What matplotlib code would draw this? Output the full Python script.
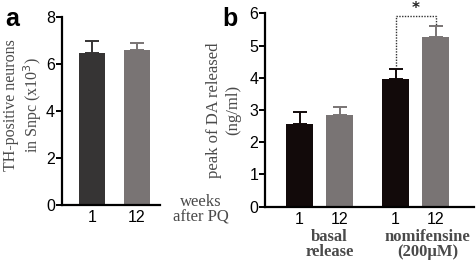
import matplotlib
matplotlib.use("Agg")
import matplotlib.pyplot as plt

# === Data ===
weeks = ["1", "12"]

# panel a: TH-positive neurons (x10^3)
th_means = [6.47, 6.58]
th_errs = [0.50, 0.33]

# panel b: peak of DA released (ng/ml)
da_ticks = ["1", "12", "1", "12"]
da_means = [2.57, 2.85, 3.96, 5.27]
da_errs = [0.36, 0.24, 0.31, 0.33]
da_groups = ["basal\nrelease", "nomifensine\n(200\u00b5M)"]

dark_a = "#363434"
dark_b = "#120a0a"
grey = "#797474"
text_grey = "#4a4a4a"

fig = plt.figure(figsize=(4.76, 2.6), dpi=100)


def style_axes(ax):
    for s in ["top", "right"]:
        ax.spines[s].set_visible(False)
    for s in ["left", "bottom"]:
        ax.spines[s].set_linewidth(1.6)
    ax.tick_params(axis="y", direction="out", length=4, width=1.4,
                   labelsize=11.5, pad=1)
    ax.tick_params(axis="x", length=0, labelsize=11.5, pad=4)
    for lbl in ax.get_xticklabels() + ax.get_yticklabels():
        lbl.set_family("Liberation Sans")


# === Panel a ===
ax1 = fig.add_axes([0.130, 0.212, 0.206, 0.723])
xa = [1, 2]
ax1.bar(xa, th_means, width=0.58, color=[dark_a, grey])
for x, m, e, c in zip(xa, th_means, th_errs, [dark_a, grey]):
    ax1.errorbar(x, m, yerr=[[0], [e]], color=c, capsize=5, elinewidth=1.4,
                 capthick=1.4)
ax1.set_xlim(0.33, 2.51)
ax1.set_ylim(0, 8)
ax1.set_yticks([0, 2, 4, 6, 8])
ax1.set_xticks(xa)
ax1.set_xticklabels(weeks)
style_axes(ax1)
ax1.set_ylabel("TH-positive neurons\nin Snpc (x10$^3$)", family="Liberation Serif",
               fontsize=11.5, color=text_grey, linespacing=1.15)
ax1.yaxis.set_label_coords(-0.18, 0.53)
fig.text(0.421, 0.195, "weeks\nafter PQ", family="Liberation Serif", fontsize=12,
         color=text_grey, ha="center", va="center", linespacing=0.95)
fig.text(0.012, 0.975, "a", fontsize=18, fontweight="bold", va="top",
         family="Liberation Sans")

# === Panel b ===
ax2 = fig.add_axes([0.557, 0.205, 0.439, 0.744])
xb = [0, 1, 2.4, 3.4]
colors_b = [dark_b, grey, dark_b, grey]
ax2.bar(xb, da_means, width=0.67, color=colors_b)
for x, m, e, c in zip(xb, da_means, da_errs, colors_b):
    ax2.errorbar(x, m, yerr=[[0], [e]], color=c, capsize=5, elinewidth=1.4,
                 capthick=1.4)
ax2.set_xlim(-0.86, 4.36)
ax2.set_ylim(0, 6)
ax2.set_yticks(range(7))
ax2.set_xticks(xb)
ax2.set_xticklabels(da_ticks)
style_axes(ax2)
ax2.set_ylabel("peak of DA released\n(ng/ml)", family="Liberation Serif",
               fontsize=12, color=text_grey, linespacing=1.25, labelpad=6)

# significance bracket
y_top = 5.93
ax2.plot([xb[2], xb[2], xb[3], xb[3]],
         [da_means[2] + da_errs[2] + 0.1, y_top, y_top, da_means[3] + da_errs[3] + 0.05],
         color="#333333", lw=1.0, ls=(0, (1, 1)), clip_on=False)
ax2.text((xb[2] + xb[3]) / 2, y_top - 0.02, "*", ha="center", va="bottom",
         fontsize=11, fontweight="bold", color="#222222", clip_on=False)

# group labels under the ticks (sit a bit right of the bar pairs)
for gx, g in zip([(xb[0] + xb[1]) / 2 + 0.25, (xb[2] + xb[3]) / 2 + 0.3], da_groups):
    ax2.text(gx, -0.115, g, transform=ax2.get_xaxis_transform(), ha="center",
             va="top", family="Liberation Serif", fontweight="bold",
             fontsize=12, color=text_grey, linespacing=0.95)

fig.text(0.468, 0.975, "b", fontsize=18, fontweight="bold", va="top",
         family="Liberation Sans")

fig.savefig("out.png", dpi=100)
